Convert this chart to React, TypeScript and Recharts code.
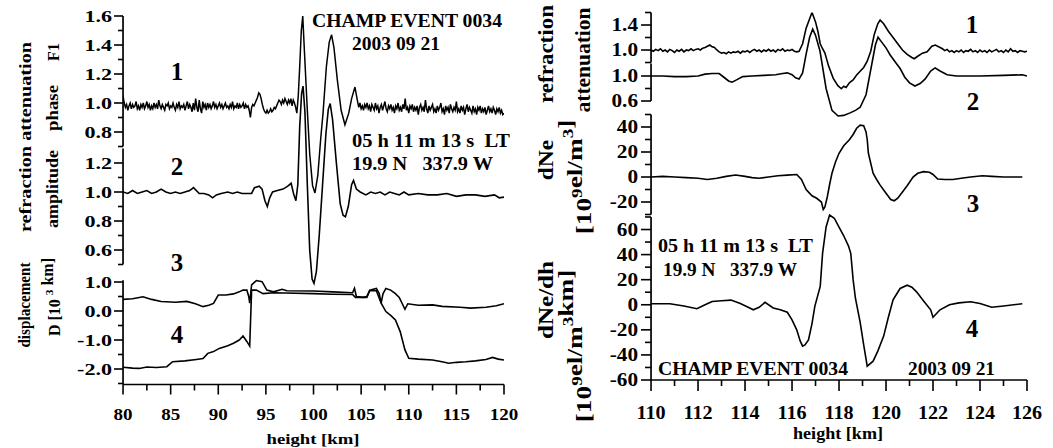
import { ComposedChart, Line, XAxis, YAxis, ReferenceLine } from "recharts";

const SERIF = '"Liberation Serif", "Times New Roman", Times, serif';
const INK = "#000";

// ---------- left panel, height 80..120 km ----------
const L_X_TICKS = [80, 82.5, 85, 87.5, 90, 92.5, 95, 97.5, 100, 102.5, 105, 107.5, 110, 112.5, 115, 117.5, 120];
const L_X_LABELS = [80, 85, 90, 95, 100, 105, 110, 115, 120];

// 1: phase F1 (noisy) – sampled every 0.125 km before and after the event
const L1_PRE = [
  1.05, 1.0, 0.97, 0.99, 0.95, 0.98, 1.0, 0.96, 0.99, 0.97,
  0.98, 1.01, 0.96, 0.98, 0.95, 0.99, 0.97, 1.0, 0.96, 0.98,
  1.01, 0.97, 0.99, 0.95, 0.98, 0.96, 1.0, 0.97, 0.99, 0.96,
  1.02, 0.98, 0.96, 0.99, 0.97, 0.95, 0.99, 0.98, 1.0, 0.96,
  0.98, 0.97, 1.0, 0.97, 0.95, 0.99, 0.97, 1.01, 0.96, 0.98,
  0.97, 0.99, 0.95, 0.98, 1.01, 0.96, 0.99, 0.97, 0.94, 1.0,
  0.95, 1.03, 0.97, 0.94, 1.02, 0.96, 0.93, 1.01, 0.97, 0.99,
  0.95, 1.0, 0.97, 0.99, 0.96, 0.98, 1.01, 0.97, 0.99, 0.96,
  0.98, 1.0, 0.97, 0.99, 0.96, 0.98, 1.0, 0.97, 0.98, 0.96,
  0.99, 0.97, 1.01, 0.96, 0.98, 0.97, 1.0, 0.96, 0.99, 0.97,
  0.98, 1.0, 0.96, 0.99, 0.97, 0.98, 0.95, 0.9, 0.97, 0.99,
  0.98, 1.0, 1.02, 1.04, 1.07, 1.06, 1.03, 0.99, 0.96, 0.94,
  0.93, 0.95, 0.93, 0.94, 0.96, 0.94, 0.95, 0.97, 0.96, 0.98,
  1.0, 1.02, 1.01, 0.99, 1.02, 1.0, 1.03, 1.01, 0.99, 1.02,
  1.0, 1.03, 0.98, 1.02, 1.0, 0.97, 0.93,
];
const L1_EVENT = [
  [98.4, 1.05], [98.55, 1.25], [98.72, 1.5], [98.87, 1.6], [99.05, 1.35], [99.35, 0.95],
  [99.6, 0.65], [99.9, 0.43], [100.15, 0.38], [100.45, 0.5], [100.75, 0.75], [101.0, 0.93],
  [101.35, 1.25], [101.65, 1.42], [101.9, 1.47], [102.15, 1.38], [102.5, 1.16], [102.9, 0.95],
  [103.3, 0.85], [103.7, 0.93], [104.0, 1.03], [104.35, 1.11], [104.6, 1.02],
];
const L1_POST = [
  0.97, 1.0, 0.96, 0.98, 0.95, 0.99, 0.97, 1.0, 0.96, 0.98,
  0.94, 0.99, 0.97, 0.95, 1.0, 0.96, 0.98, 0.93, 0.97, 0.99,
  0.95, 0.98, 1.01, 0.96, 0.94, 0.98, 0.96, 0.99, 0.95, 0.97,
  0.93, 0.98, 0.96, 1.0, 0.95, 0.97, 0.94, 0.99, 0.96, 1.03,
  0.95, 0.97, 0.93, 0.98, 0.96, 0.99, 0.94, 0.97, 0.95, 0.98,
  0.92, 0.97, 0.99, 0.95, 0.97, 0.94, 1.02, 0.96, 0.93, 0.98,
  0.95, 0.97, 0.99, 0.94, 0.96, 0.93, 0.98, 0.95, 0.97, 1.0,
  0.94, 0.96, 0.92, 0.98, 0.95, 0.97, 0.93, 0.99, 0.96, 0.94,
  0.97, 0.95, 1.01, 0.94, 0.96, 0.93, 0.98, 0.95, 0.97, 0.92,
  0.96, 0.99, 0.94, 0.97, 0.95, 0.93, 0.98, 0.94, 0.96, 0.92,
  0.97, 0.95, 0.98, 0.93, 0.96, 0.94, 0.97, 0.92, 0.95, 0.98,
  0.94, 0.96, 0.93, 0.97, 0.95, 0.92, 0.96, 0.94, 0.97, 0.93,
  0.95, 0.92, 0.93,
];

// 2: refraction attenuation of amplitude
const L2 = [
  [80, 1.0], [80.5, 0.99], [81, 1.01], [81.5, 0.99], [82, 1.0], [82.5, 1.01], [83, 0.99],
  [83.5, 1.0], [84, 1.02], [84.5, 1.0], [85, 0.99], [85.5, 1.0], [86, 0.99], [86.5, 1.0],
  [87, 1.01], [87.4, 1.03], [88, 0.99], [88.5, 0.99], [89, 0.98], [89.4, 0.96], [89.8, 0.98],
  [90.3, 0.99], [91, 1.0], [91.5, 0.99], [92, 1.0], [92.5, 0.99], [93, 0.99], [93.5, 0.99],
  [93.8, 1.03], [94.3, 1.04], [94.6, 1.02], [94.9, 0.94], [95.15, 0.9], [95.4, 0.96],
  [95.7, 1.0], [96.2, 1.01], [96.8, 1.02], [97.3, 1.04], [97.65, 1.06], [97.9, 0.99],
  [98.15, 0.94], [98.35, 1.05], [98.55, 1.45], [98.75, 1.68], [98.9, 1.73], [99.1, 1.55],
  [99.35, 1.05], [99.6, 0.6], [99.85, 0.4], [100.05, 0.37], [100.3, 0.45], [100.6, 0.7],
  [100.95, 1.05], [101.3, 1.4], [101.55, 1.57], [101.75, 1.61], [102.0, 1.5], [102.4, 1.2],
  [102.8, 0.92], [103.1, 0.84], [103.35, 0.83], [103.65, 0.9], [104.0, 1.05], [104.2, 1.08],
  [104.5, 1.02], [104.9, 1.0], [105.5, 0.98], [106, 1.0], [106.5, 0.99], [107, 1.0],
  [107.5, 0.98], [108, 1.0], [108.5, 0.99], [109, 0.98], [109.5, 1.0], [110, 0.98],
  [111, 0.99], [112, 0.98], [113, 0.98], [114, 0.99], [115, 0.97], [116, 0.98], [117, 0.98],
  [118, 0.97], [119, 0.98], [119.5, 0.96], [120, 0.965],
];

// 4: displacement D, two traces
const L4_UPPER = [
  [80, 0.4], [81, 0.42], [82.1, 0.49], [83, 0.4], [84, 0.33], [85.5, 0.3], [86.7, 0.33],
  [87.6, 0.25], [88.4, 0.15], [89.0, 0.2], [89.5, 0.26], [90.0, 0.55], [90.8, 0.55],
  [91.6, 0.59], [92.2, 0.66], [92.6, 0.72], [93.0, 0.72], [93.2, 0.5], [93.3, 0.27],
  [93.5, 0.9], [94.0, 1.05], [94.6, 1.01], [95.1, 0.72], [95.8, 0.66], [96.7, 0.75],
  [97.2, 0.7], [100, 0.69], [102, 0.66], [104.1, 0.63], [104.3, 0.78], [104.5, 0.5],
  [105.2, 0.47], [105.6, 0.5], [105.9, 0.72], [106.6, 0.78], [106.9, 0.6], [107.1, 0.27],
  [107.3, 0.6], [107.6, 0.78], [108.1, 0.72], [108.6, 0.6], [109.0, 0.47], [109.6, 0.06],
  [109.9, 0.25], [111, 0.2], [112.5, 0.21], [113.5, 0.16], [115.4, 0.13], [116.5, 0.1],
  [118.1, 0.13], [119.2, 0.18], [120, 0.25],
];
const L4_LOWER = [
  [80, -1.94], [81, -1.97], [81.7, -1.98], [82.5, -1.93], [83.5, -1.95], [84.6, -1.92],
  [85.2, -1.75], [86.5, -1.72], [87.7, -1.67], [88.4, -1.64], [88.9, -1.46], [89.5, -1.4],
  [90.1, -1.29], [91.0, -1.2], [91.6, -1.11], [92.2, -1.0], [92.6, -0.86], [93.0, -1.05],
  [93.3, -1.21], [93.5, 0.72], [94.0, 0.72], [94.7, 0.6], [95.8, 0.63], [97, 0.62],
  [100, 0.6], [102, 0.58], [104.1, 0.57], [104.4, 0.47], [105.6, 0.47], [105.9, 0.7],
  [106.6, 0.7], [107.1, 0.27], [107.6, -0.02], [108.1, -0.15], [108.6, -0.31],
  [109.1, -0.71], [109.6, -1.34], [110.0, -1.63], [111, -1.66], [112.5, -1.69],
  [113.5, -1.75], [114.2, -1.8], [115, -1.77], [116.0, -1.75], [117, -1.72], [118.1, -1.67],
  [118.8, -1.6], [119.4, -1.66], [120, -1.69],
];

// ---------- right panel, height 110..126 km ----------
const R_X_TICKS = [110, 111, 112, 113, 114, 115, 116, 117, 118, 119, 120, 121, 122, 123, 124, 125, 126];
const R_X_LABELS = [110, 112, 114, 116, 118, 120, 122, 124, 126];

// 1: refraction attenuation (noisy) – sampled every 0.1 km outside the event
const R1_PRE = [
  1.0, 0.98, 1.01, 0.99, 1.02, 0.98, 1.0, 0.97, 1.01, 0.99,
  0.96, 1.0, 0.98, 1.01, 0.97, 1.0, 0.99, 1.02, 0.99, 1.01,
  1.02, 1.0, 1.03, 1.04, 1.06, 1.08, 1.05, 1.04, 1.0, 0.97,
  0.95, 0.96, 0.94, 0.97, 0.95, 0.97, 0.96, 0.98, 0.95, 0.98,
  0.97, 0.99, 0.96, 0.99, 1.01, 0.98, 1.0, 0.97, 1.0, 0.98,
  1.01, 0.98, 1.0, 0.97, 1.01, 0.99, 1.02, 0.98, 1.0, 0.99,
  1.01, 0.98, 0.97,
];
const R1_EVENT = [
  [116.3, 0.98], [116.45, 1.1], [116.6, 1.35], [116.75, 1.5], [116.85, 1.6], [117.0, 1.45],
  [117.1, 1.3], [117.2, 1.1], [117.3, 1.02], [117.4, 0.95], [117.55, 0.75], [117.75, 0.55],
  [117.95, 0.43], [118.1, 0.38], [118.2, 0.42], [118.3, 0.4], [118.45, 0.48], [118.6, 0.52],
  [118.75, 0.6], [118.9, 0.66], [119.05, 0.72], [119.2, 0.82], [119.35, 0.98], [119.5, 1.25],
  [119.65, 1.42], [119.75, 1.48], [119.9, 1.42], [120.1, 1.3], [120.3, 1.2], [120.5, 1.1],
  [120.7, 1.0], [120.9, 0.93], [121.1, 0.88], [121.2, 0.86], [121.35, 0.9], [121.55, 0.95],
  [121.75, 0.97], [121.95, 1.06], [122.1, 1.08], [122.3, 1.04],
];
const R1_POST = [
  1.02, 0.99, 1.01, 0.97, 0.99, 0.96, 0.99, 0.97, 1.0, 0.96,
  0.99, 0.98, 1.01, 0.97, 0.99, 0.96, 1.0, 0.97, 0.99, 0.96,
  1.0, 0.97, 0.99, 1.01, 0.97, 0.99, 0.96, 1.0, 0.97, 1.02,
  0.98, 0.99, 0.96, 0.99, 0.98, 0.97, 0.98,
];

// 2: attenuation of amplitude
const R2 = [
  [110, 1.0], [110.5, 1.0], [111, 0.99], [111.5, 0.99], [112, 1.0], [112.3, 1.03],
  [112.6, 1.04], [112.9, 1.04], [113.1, 0.98], [113.3, 0.92], [113.45, 0.9], [113.6, 0.93],
  [113.9, 0.99], [114.3, 1.0], [114.8, 1.01], [115.3, 1.02], [115.6, 1.04], [115.8, 1.05],
  [116.0, 1.02], [116.15, 0.97], [116.3, 0.95], [116.45, 1.05], [116.6, 1.35], [116.75, 1.62],
  [116.88, 1.75], [117.0, 1.65], [117.19, 1.4], [117.45, 0.8], [117.7, 0.45], [117.96, 0.36],
  [118.2, 0.37], [118.47, 0.41], [118.7, 0.45], [118.9, 0.5], [119.15, 0.7], [119.4, 1.2],
  [119.55, 1.5], [119.66, 1.62], [119.8, 1.55], [120.0, 1.45], [120.17, 1.34], [120.4, 1.22],
  [120.6, 1.12], [120.8, 0.98], [121.0, 0.89], [121.23, 0.84], [121.45, 0.88], [121.66, 0.95],
  [121.9, 1.08], [122.09, 1.13], [122.3, 1.08], [122.6, 1.02], [123, 1.0], [124, 1.0],
  [125, 1.01], [125.8, 1.02], [126, 1.0],
];

// 3: dNe [10^9 el/m^3]
const R3 = [
  [110, 0], [110.5, 0.5], [111, 0], [111.5, -0.5], [112, -1], [112.4, -2], [112.8, -1],
  [113.2, 0.5], [113.6, 1.6], [114, 0.5], [114.3, -0.5], [114.6, -1], [115, 0], [115.4, 1],
  [115.8, 1.5], [116.2, 2], [116.4, -2], [116.6, -10], [116.85, -15], [117.05, -17],
  [117.25, -20], [117.33, -26], [117.4, -24], [117.5, -16], [117.6, -6], [117.7, 3],
  [117.85, 12], [118.0, 19], [118.2, 25], [118.45, 30], [118.6, 34], [118.75, 39],
  [118.9, 41.5], [119.05, 41], [119.15, 36], [119.2, 30], [119.25, 19], [119.45, 3],
  [119.6, -2], [119.75, -6.5], [120.0, -13], [120.2, -18], [120.35, -19], [120.5, -17],
  [120.7, -12], [120.9, -7], [121.15, 0], [121.35, 3], [121.6, 4.3], [121.85, 3.8],
  [122.0, 2], [122.2, -1.6], [122.5, -2], [122.85, -2], [123.2, -1], [123.6, 0], [124.1, 1],
  [124.5, 0.5], [125, 0], [125.5, 0], [125.8, 0],
];

// 4: dNe/dh [10^9 el/m^3 km]
const R4 = [
  [110, 0.8], [110.8, 0.8], [111.4, -1], [111.95, -3.2], [112.3, 0], [112.6, 2.6],
  [113.0, 3.2], [113.4, 3.7], [113.8, 1], [114.2, -2.6], [114.35, -4], [114.6, -2],
  [114.85, 1.9], [115.2, -2.6], [115.5, -4], [115.8, -6], [116.0, -12], [116.2, -20],
  [116.35, -29], [116.45, -33], [116.55, -32], [116.7, -28], [116.85, -15], [116.97, -1.3],
  [117.2, 14.6], [117.3, 41], [117.45, 62], [117.6, 71.5], [117.8, 69], [118.0, 62],
  [118.2, 55], [118.4, 47], [118.5, 41], [118.6, 20], [118.7, 5], [118.9, -14],
  [119.05, -32], [119.2, -49], [119.45, -45], [119.65, -37], [119.9, -25], [120.1, -10],
  [120.3, 4], [120.6, 13], [120.9, 15.6], [121.1, 14], [121.3, 10.3], [121.6, 3],
  [121.9, -4], [122.0, -10], [122.15, -7], [122.3, -4], [122.7, 0], [123.1, 1.5],
  [123.6, 2.4], [124.0, 1], [124.5, -2], [125.0, -1], [125.8, 0.8],
];

const pts = (pairs: number[][]) => pairs.map(([h, v]) => ({ h, v }));
const run = (start: number, step: number, vals: number[]) =>
  vals.map((v, i) => ({ h: +(start + i * step).toFixed(3), v }));

const l1Data = [...run(80, 0.125, L1_PRE), ...pts(L1_EVENT), ...run(104.75, 0.125, L1_POST)];
const r1Data = [...run(110, 0.1, R1_PRE), ...pts(R1_EVENT), ...run(122.4, 0.1, R1_POST)];

const near = (list: number[], v: number) => list.some((l) => Math.abs(l - v) < 1e-6);

type YTickOpts = { labels: number[]; digits: number; size: number; major: number; minor: number; gap: number; sx: number };

function yTick(o: YTickOpts) {
  return (p: any) => {
    const v = p.payload.value as number;
    const lab = near(o.labels, v);
    const len = lab ? o.major : o.minor;
    return (
      <g>
        <line x1={p.x - len} x2={p.x} y1={p.y} y2={p.y} stroke={INK} strokeWidth={1.6} />
        {lab && (
          <text
            transform={`translate(${p.x - o.gap},${p.y + o.size * 0.34}) scale(${o.sx},1)`}
            textAnchor="end"
            fontFamily={SERIF}
            fontWeight="bold"
            fontSize={o.size}
            fill={INK}
          >
            {v.toFixed(o.digits)}
          </text>
        )}
      </g>
    );
  };
}

type XTickOpts = { labels: number[]; size: number; major: number; minor: number; dy: number; sx: number };

function xTick(o: XTickOpts) {
  return (p: any) => {
    const v = p.payload.value as number;
    const lab = near(o.labels, v);
    return (
      <g>
        <line x1={p.x} x2={p.x} y1={p.y} y2={p.y + (lab ? o.major : o.minor)} stroke={INK} strokeWidth={1.6} />
        {lab && (
          <text
            transform={`translate(${p.x},${p.y + o.dy}) scale(${o.sx},1)`}
            textAnchor="middle"
            fontFamily={SERIF}
            fontWeight="bold"
            fontSize={o.size}
            fill={INK}
          >
            {v}
          </text>
        )}
      </g>
    );
  };
}

// the stacked y axes all sit on the plot's left edge, so each gets a near-zero width
const yAxisCommon = {
  type: "number" as const,
  width: 0.01,
  allowDataOverflow: true,
  axisLine: false,
  tickLine: false,
  tickSize: 0,
  tickMargin: 0,
  interval: 0 as const,
};

const lineCommon = {
  dataKey: "v",
  stroke: INK,
  strokeWidth: 1.6,
  dot: false,
  activeDot: false,
  type: "linear" as const,
  isAnimationActive: false,
};

const axisSeg = { stroke: INK, strokeWidth: 1.7, ifOverflow: "visible" as const };

function LeftPanel() {
  const lt = { size: 17, major: 9, minor: 5, gap: 11, sx: 1.3 };
  return (
    <ComposedChart width={520} height={448} margin={{ top: 16, right: 16, bottom: 33.5, left: 123 }}>
      <XAxis
        type="number"
        dataKey="h"
        domain={[80, 120]}
        allowDataOverflow
        ticks={L_X_TICKS}
        interval={0}
        height={30}
        tickSize={0}
        tickMargin={0}
        tickLine={false}
        axisLine={{ stroke: INK, strokeWidth: 1.7 }}
        tick={xTick({ labels: L_X_LABELS, size: 17, major: 10, minor: 6, dy: 35.5, sx: 1.12 })}
      />
      <YAxis {...yAxisCommon} yAxisId="l1" domain={[-0.9414, 1.6]}
        ticks={[0.7, 0.8, 0.9, 1.0, 1.1, 1.2, 1.3, 1.4, 1.5, 1.6]}
        tick={yTick({ ...lt, labels: [0.8, 1.0, 1.2, 1.4, 1.6], digits: 1 })} />
      <YAxis {...yAxisCommon} yAxisId="l2" domain={[-0.3276, 2.2138]}
        ticks={[0.5, 0.6, 0.7, 0.8, 0.9, 1.0, 1.1, 1.2]}
        tick={yTick({ ...lt, labels: [0.6, 0.8, 1.0, 1.2], digits: 1 })} />
      <YAxis {...yAxisCommon} yAxisId="l4" domain={[-2.5345, 10.1724]}
        ticks={[-2.5, -2.0, -1.5, -1.0, -0.5, 0.0, 0.5, 1.0]}
        tick={yTick({ ...lt, labels: [-2, -1, 0, 1], digits: 1 })} />
      <ReferenceLine yAxisId="l1" segment={[{ x: 80, y: 0.7 }, { x: 80, y: 1.6 }]} {...axisSeg} />
      <ReferenceLine yAxisId="l2" segment={[{ x: 80, y: 0.5 }, { x: 80, y: 1.3 }]} {...axisSeg} />
      <ReferenceLine yAxisId="l4" segment={[{ x: 80, y: -2.5345 }, { x: 80, y: 1.06 }]} {...axisSeg} />
      <Line {...lineCommon} yAxisId="l4" data={pts(L4_UPPER)} />
      <Line {...lineCommon} yAxisId="l4" data={pts(L4_LOWER)} />
      <Line {...lineCommon} yAxisId="l2" data={pts(L2)} />
      <Line {...lineCommon} yAxisId="l1" data={l1Data} strokeWidth={1.5} />
    </ComposedChart>
  );
}

function RightPanel() {
  const rt = { size: 18, major: 10, minor: 6, gap: 13, sx: 1.18 };
  return (
    <ComposedChart width={533} height={448} margin={{ top: 12.5, right: 26, bottom: 38, left: 131 }}>
      <XAxis
        type="number"
        dataKey="h"
        domain={[110, 126]}
        allowDataOverflow
        ticks={R_X_TICKS}
        interval={0}
        height={30}
        tickSize={0}
        tickMargin={0}
        tickLine={false}
        axisLine={{ stroke: INK, strokeWidth: 1.7 }}
        tick={xTick({ labels: R_X_LABELS, size: 18, major: 11, minor: 6, dy: 38.5, sx: 1.12 })}
      />
      <YAxis {...yAxisCommon} yAxisId="r1" domain={[-4.28, 1.6]}
        ticks={[0.8, 1.0, 1.2, 1.4, 1.6]}
        tick={yTick({ ...rt, labels: [1.0, 1.4], digits: 1 })} />
      <YAxis {...yAxisCommon} yAxisId="r2" domain={[-3.864, 2.016]}
        ticks={[0.6, 0.8, 1.0]}
        tick={yTick({ ...rt, labels: [0.6, 1.0], digits: 1 })} />
      <YAxis {...yAxisCommon} yAxisId="r3" domain={[-162.4, 131.6]}
        ticks={[-30, -20, -10, 0, 10, 20, 30, 40, 50]}
        tick={yTick({ ...rt, labels: [-20, 0, 20, 40], digits: 0 })} />
      <YAxis {...yAxisCommon} yAxisId="r4" domain={[-60, 233.05]}
        ticks={[-60, -50, -40, -30, -20, -10, 0, 10, 20, 30, 40, 50, 60, 70]}
        tick={yTick({ ...rt, labels: [-60, -40, -20, 0, 20, 40, 60], digits: 0 })} />
      <ReferenceLine yAxisId="r1" segment={[{ x: 110, y: 0.8 }, { x: 110, y: 1.6 }]} {...axisSeg} />
      <ReferenceLine yAxisId="r2" segment={[{ x: 110, y: 0.6 }, { x: 110, y: 1.2 }]} {...axisSeg} />
      <ReferenceLine yAxisId="r3" segment={[{ x: 110, y: -30 }, { x: 110, y: 50 }]} {...axisSeg} />
      <ReferenceLine yAxisId="r4" segment={[{ x: 110, y: -60 }, { x: 110, y: 70 }]} {...axisSeg} />
      <Line {...lineCommon} yAxisId="r2" data={pts(R2)} />
      <Line {...lineCommon} yAxisId="r1" data={r1Data} />
      <Line {...lineCommon} yAxisId="r3" data={pts(R3)} />
      <Line {...lineCommon} yAxisId="r4" data={pts(R4)} />
    </ComposedChart>
  );
}

type TxtProps = { x: number; y: number; size: number; w?: number; sx?: number; anchor?: "start" | "middle" | "end"; children: any };

function Txt({ x, y, size, w, anchor = "start", children }: TxtProps) {
  return (
    <text
      x={x}
      y={y}
      fontSize={size}
      fontFamily={SERIF}
      fontWeight="bold"
      fill={INK}
      textAnchor={anchor}
      textLength={w}
      lengthAdjust={w ? "spacingAndGlyphs" : undefined}
      style={{ whiteSpace: "pre" }}
    >
      {children}
    </text>
  );
}

// vertical axis caption, read bottom-to-top; x is the baseline position
function VTxt({ x, y, size, w, sx = 1, children }: TxtProps) {
  return (
    <text
      transform={`translate(${x},${y}) rotate(-90) scale(${sx},1)`}
      fontSize={size}
      fontFamily={SERIF}
      fontWeight="bold"
      fill={INK}
      textAnchor="middle"
      textLength={w}
      lengthAdjust={w ? "spacingAndGlyphs" : undefined}
      style={{ whiteSpace: "pre" }}
    >
      {children}
    </text>
  );
}

const sup = (s: string, size: number) => (
  <>
    <tspan dy={-size * 0.42} fontSize={size * 0.7}>{s}</tspan>
    <tspan dy={size * 0.42}>{""}</tspan>
  </>
);

function Captions() {
  return (
    <svg width={1053} height={448} style={{ position: "absolute", left: 0, top: 0, pointerEvents: "none" }}>
      {/* left panel */}
      <Txt x={177} y={80} size={25} anchor="middle">1</Txt>
      <Txt x={177} y={175} size={25} anchor="middle">2</Txt>
      <Txt x={177} y={271} size={25} anchor="middle">3</Txt>
      <Txt x={177} y={343} size={25} anchor="middle">4</Txt>
      <Txt x={312} y={27} size={18} w={190}>CHAMP EVENT 0034</Txt>
      <Txt x={352} y={50} size={18} w={88}>2003 09 21</Txt>
      <Txt x={352} y={147} size={18} w={158}>05 h 11 m 13 s  LT</Txt>
      <Txt x={352} y={170} size={18} w={141}>19.9 N   337.9 W</Txt>
      <Txt x={313} y={444} size={15} w={93} anchor="middle">height [km]</Txt>
      <VTxt x={31} y={137} size={16} w={190}>refraction attenuation</VTxt>
      <VTxt x={30} y={305} size={16} sx={0.95}>displacement</VTxt>
      <VTxt x={59} y={52} size={16}>F1</VTxt>
      <VTxt x={58} y={108} size={16} w={46}>phase</VTxt>
      <VTxt x={58} y={189} size={16} w={78}>amplitude</VTxt>
      <VTxt x={60} y={297} size={16}>
        D [10 {sup("3", 16)} km]
      </VTxt>

      {/* right panel */}
      <Txt x={972} y={33} size={25} anchor="middle">1</Txt>
      <Txt x={973} y={110} size={25} anchor="middle">2</Txt>
      <Txt x={973} y={212} size={25} anchor="middle">3</Txt>
      <Txt x={972} y={337} size={25} anchor="middle">4</Txt>
      <Txt x={658} y={252} size={18} w={155}>05 h 11 m 13 s  LT</Txt>
      <Txt x={663} y={276} size={18} w={134}>19.9 N   337.9 W</Txt>
      <Txt x={658} y={375} size={18} w={190}>CHAMP EVENT 0034</Txt>
      <Txt x={908} y={375} size={18} w={87}>2003 09 21</Txt>
      <Txt x={838} y={439} size={17} w={90} anchor="middle">height [km]</Txt>
      <VTxt x={553} y={54} size={20} w={98}>refraction</VTxt>
      <VTxt x={553} y={160} size={21} sx={1.12}>dNe</VTxt>
      <VTxt x={553} y={300} size={21} w={78}>dNe/dh</VTxt>
      <VTxt x={590} y={60} size={20} w={105}>attenuation</VTxt>
      <VTxt x={591} y={177} size={21} sx={1.3}>
        [10{sup("9", 21)}el/m{sup("3", 21)}]
      </VTxt>
      <VTxt x={591} y={346} size={21} sx={1.3}>
        [10{sup("9", 21)}el/m{sup("3", 21)}km]
      </VTxt>
    </svg>
  );
}

export default function App() {
  return (
    <div style={{ position: "absolute", left: 0, top: 0, width: 1053, height: 448, background: "#fff" }}>
      <div style={{ position: "absolute", left: 0, top: 0 }}>
        <LeftPanel />
      </div>
      <div style={{ position: "absolute", left: 520, top: 0 }}>
        <RightPanel />
      </div>
      <Captions />
    </div>
  );
}
